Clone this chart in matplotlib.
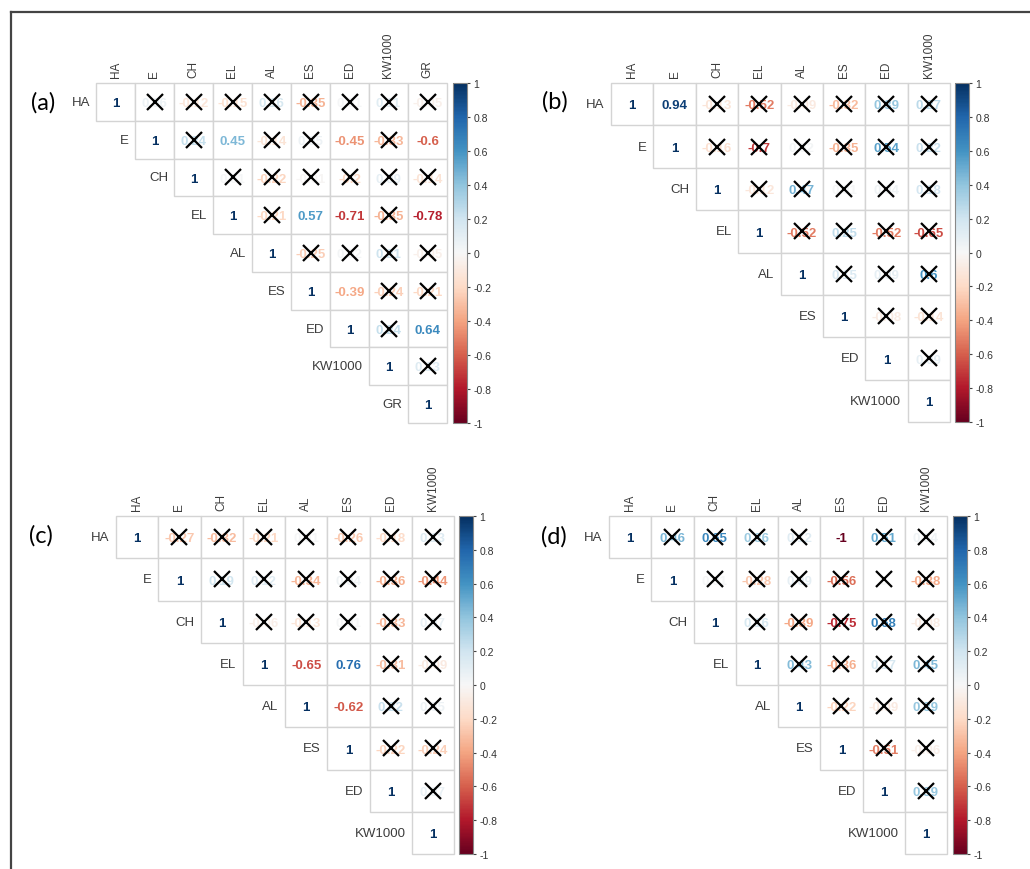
import numpy as np
import matplotlib
matplotlib.use('Agg')
import matplotlib.pyplot as plt
from matplotlib.patches import Rectangle
from matplotlib.lines import Line2D
from matplotlib.cm import ScalarMappable
from matplotlib.colors import Normalize

plt.rcParams['font.family'] = ['Liberation Sans', 'DejaVu Sans']

vars_a = ["HA", "E", "CH", "EL", "AL", "ES", "ED", "KW1000", "GR"]
vars_bcd = ["HA", "E", "CH", "EL", "AL", "ES", "ED", "KW1000"]

# upper triangle values, row by row (diagonal = 1 left out)
rows_a = [
    [0.06, -0.12, -0.15, 0.16, -0.35, 0.01, 0.11, -0.05],
    [0.24, 0.45, -0.14, 0.05, -0.45, -0.33, -0.6],
    [0.01, -0.22, -0.01, -0.2, 0.09, -0.14],
    [-0.21, 0.57, -0.71, -0.35, -0.78],
    [-0.25, 0.02, 0.21, -0.05],
    [-0.39, -0.24, -0.21],
    [0.24, 0.64],
    [0.13],
]
rows_b = [
    [0.94, -0.13, -0.52, -0.09, -0.32, 0.39, 0.27],
    [-0.16, -0.7, 0.02, -0.35, 0.54, 0.22],
    [-0.12, 0.47, 0.01, 0.04, 0.18],
    [-0.52, 0.25, -0.52, -0.65],
    [0.15, 0.09, 0.6],
    [-0.08, -0.14],
    [0.09],
]
rows_c = [
    [-0.27, -0.32, -0.21, 0.01, -0.26, -0.18, 0.13],
    [0.19, 0.12, -0.34, 0.04, -0.36, -0.44],
    [-0.06, -0.13, 0.01, -0.33, 0.07],
    [-0.65, 0.76, -0.31, -0.09],
    [-0.62, 0.22, 0.05],
    [-0.22, -0.24],
    [0.07],
]
rows_d = [
    [0.46, 0.65, 0.36, 0.12, -1, 0.51, 0.04],
    [0.01, -0.28, 0.09, -0.56, 0.0, -0.38],
    [0.16, -0.39, -0.75, 0.68, -0.08],
    [0.43, -0.36, 0.17, 0.45],
    [-0.22, -0.09, 0.39],
    [-0.51, -0.06],
    [0.39],
]

# pairs that are significant (no cross)
sig_a = [("E", "EL"), ("E", "ED"), ("E", "GR"), ("EL", "ES"), ("EL", "ED"),
         ("EL", "GR"), ("ES", "ED"), ("ED", "GR")]
sig_b = [("HA", "E")]
sig_c = [("EL", "AL"), ("EL", "ES"), ("AL", "ES")]
sig_d = [("HA", "ES")]

panel_labels = ["(a)", "(b)", "(c)", "(d)"]

W, H = 1030, 870
fig = plt.figure(figsize=(W / 100, H / 100), dpi=100)
cmap = plt.get_cmap('RdBu')
norm = Normalize(-1, 1)


def box(l, t, r, b):
    return [l / W, 1 - b / H, (r - l) / W, (b - t) / H]


def full_matrix(rows, n):
    m = np.eye(n)
    for i, r in enumerate(rows):
        for k, v in enumerate(r):
            m[i, i + 1 + k] = v
    return m


def fmt(v):
    v = round(v, 2)
    s = f"{v:g}"
    return "0" if s in ("-0", "0.0") else s


def draw_panel(grid_box, cbar_box, labels, rows, sig, tag, tag_xy):
    n = len(labels)
    m = full_matrix(rows, n)
    ax = fig.add_axes(box(*grid_box))
    ax.set_xlim(0, n)
    ax.set_ylim(n, 0)
    ax.axis('off')
    sig_set = set(sig)
    for i in range(n):
        for j in range(i, n):
            ax.add_patch(Rectangle((j, i), 1, 1, facecolor='white',
                                   edgecolor='#d4d4d4', lw=1.0, clip_on=False))
            v = m[i, j]
            ax.text(j + 0.5, i + 0.53, fmt(v), ha='center', va='center',
                    fontsize=9.5, fontweight='bold', color=cmap(norm(v)))
            if i != j and (labels[i], labels[j]) not in sig_set:
                ax.plot(j + 0.5, i + 0.5, marker='x', ms=11, mew=1.6,
                        color='black', clip_on=False, zorder=5)
        ax.text(i - 0.15, i + 0.5, labels[i], ha='right', va='center',
                fontsize=9.5, color='#3c3c3c')
        ax.text(i + 0.5, -0.15, labels[i], ha='center', va='bottom',
                rotation=90, fontsize=8.5, color='#3c3c3c')
    cax = fig.add_axes(box(*cbar_box))
    cb = fig.colorbar(ScalarMappable(norm=norm, cmap=cmap), cax=cax)
    ticks = np.round(np.arange(-1, 1.01, 0.2), 1)
    cb.set_ticks(ticks)
    cb.set_ticklabels([fmt(t) for t in ticks])
    cb.outline.set_edgecolor('#888888')
    cb.outline.set_linewidth(0.8)
    cax.tick_params(labelsize=7.5, length=2.5, width=0.8, colors='#444444',
                    labelcolor='#333333', pad=2)
    fig.text(tag_xy[0] / W, 1 - tag_xy[1] / H, tag, fontsize=17,
             family=['Lato', 'DejaVu Sans'], ha='center', va='center',
             color='black')


draw_panel((96, 84, 447, 424), (453, 84, 467, 424), vars_a, rows_a, sig_a,
           panel_labels[0], (43, 103))
draw_panel((611, 84, 950, 423), (955, 84, 969, 423), vars_bcd, rows_b, sig_b,
           panel_labels[1], (555, 102))
draw_panel((116, 517, 454, 855), (459, 517, 473, 855), vars_bcd, rows_c, sig_c,
           panel_labels[2], (41, 536))
draw_panel((609, 517, 947, 855), (953, 517, 967, 855), vars_bcd, rows_d, sig_d,
           panel_labels[3], (554, 537))

# frame lines at top and left
fig.add_artist(Line2D([11 / W, 11 / W], [0, 1 - 13 / H], color='#444444', lw=1.6))
fig.add_artist(Line2D([11 / W, 1], [1 - 13 / H, 1 - 13 / H], color='#444444', lw=1.6))

fig.savefig('out.png', dpi=100, facecolor='white')
